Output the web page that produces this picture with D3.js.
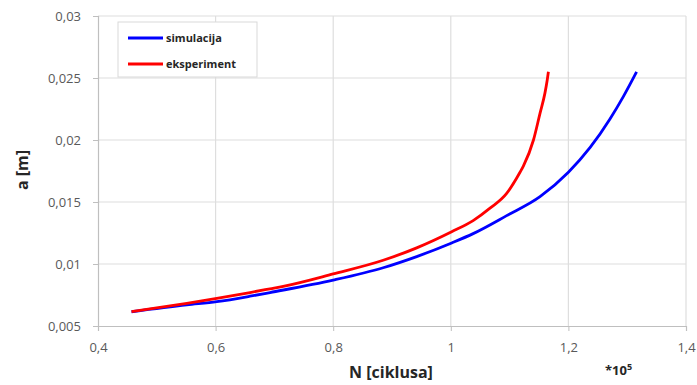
<!DOCTYPE html>
<html>
<head>
<meta charset="utf-8">
<script src="https://cdn.jsdelivr.net/npm/d3@7"></script>
<style>
	body { margin: 0; background: #fff; }
	text { font-family: 'Open Sans', 'Liberation Sans', sans-serif; }
</style>
</head>
<body>
<div id="chart"></div>
<script>
// Data (N in 10^5 cycles, a in m)
const simN = [ 0.457, 0.551, 0.602, 0.6585, 0.6925, 0.8, 0.885, 0.942, 1.0015, 1.038, 1.095, 1.1517, 1.2, 1.237, 1.2707, 1.2934, 1.316 ];
const simA = [ 0.00615, 0.0067, 0.00696, 0.0074, 0.0077, 0.0087, 0.0097, 0.0106, 0.0117, 0.01245, 0.0139, 0.01543, 0.0174, 0.0194, 0.0217, 0.0235, 0.0255 ];
const expN = [ 0.457, 0.551, 0.602, 0.6585, 0.6925, 0.715, 0.8, 0.885, 0.942, 1.0015, 1.038, 1.0667, 1.095, 1.1177, 1.1234, 1.1406, 1.1517, 1.16, 1.164, 1.166 ];
const expA = [ 0.00615, 0.00683, 0.00723, 0.0077, 0.008, 0.0082, 0.0092, 0.0103, 0.0113, 0.0126, 0.0135, 0.0145, 0.0157, 0.0174, 0.0179, 0.02, 0.02215, 0.02376, 0.02484, 0.0255 ];
const xTicks = [ 0.4, 0.6, 0.8, 1, 1.2, 1.4 ];
const yTicks = [ 0.005, 0.01, 0.015, 0.02, 0.025, 0.03 ];
const seriesNames = [ 'simulacija', 'eksperiment' ];
const seriesColors = [ '#0000ff', '#ff0000' ];

const dimensions = {
	width  : 697,
	height : 385,
	margin : { top: 16, right: 11, bottom: 59, left: 98 }
};
dimensions.boundedWidth = dimensions.width - dimensions.margin.left - dimensions.margin.right;
dimensions.boundedHeight = dimensions.height - dimensions.margin.top - dimensions.margin.bottom;

const svg = d3.select('#chart').append('svg')
	.attr('width', dimensions.width)
	.attr('height', dimensions.height);

const g = svg.append('g')
	.attr('transform', `translate(${dimensions.margin.left}, ${dimensions.margin.top})`);

const x = d3.scaleLinear().domain([ 0.4, 1.4 ]).range([ 0, dimensions.boundedWidth ]);
const y = d3.scaleLinear().domain([ 0.005, 0.03 ]).range([ dimensions.boundedHeight, 0 ]);
const fmt = (d) => String(+d.toFixed(3)).replace('.', ',');

// grid
g.append('g').selectAll('line').data(yTicks.slice(1)).join('line')
	.attr('x1', 0).attr('x2', dimensions.boundedWidth)
	.attr('y1', (d) => y(d)).attr('y2', (d) => y(d))
	.attr('stroke', '#dedede').attr('stroke-width', 1.2);
g.append('g').selectAll('line').data(xTicks.slice(1)).join('line')
	.attr('x1', (d) => x(d)).attr('x2', (d) => x(d))
	.attr('y1', 0).attr('y2', dimensions.boundedHeight)
	.attr('stroke', '#dedede').attr('stroke-width', 1.2);

// axes
const xAxis = g.append('g')
	.attr('transform', `translate(0, ${dimensions.boundedHeight})`)
	.call(d3.axisBottom(x).tickValues(xTicks).tickFormat(fmt).tickSize(5).tickPadding(12));
const yAxis = g.append('g')
	.call(d3.axisLeft(y).tickValues(yTicks).tickFormat(fmt).tickSize(5).tickPadding(12));
[ xAxis, yAxis ].forEach((a) => {
	a.select('.domain').attr('stroke', '#bfbfbf').attr('stroke-width', 1.2);
	a.selectAll('.tick line').attr('stroke', '#bfbfbf');
	a.selectAll('text').attr('fill', '#595959').attr('font-size', '13px')
		.attr('font-family', "'Open Sans', sans-serif");
});

// series
const line = d3.line().x((d) => x(d[0])).y((d) => y(d[1])).curve(d3.curveMonotoneX);
const series = [ d3.zip(simN, simA), d3.zip(expN, expA) ];
g.selectAll('path.series').data(series).join('path')
	.attr('class', 'series')
	.attr('fill', 'none')
	.attr('stroke', (d, i) => seriesColors[i])
	.attr('stroke-width', 2.8)
	.attr('d', line);

// axis titles
svg.append('text')
	.attr('transform', 'translate(28, 170) rotate(-90)')
	.attr('text-anchor', 'middle')
	.attr('font-size', '16px').attr('font-weight', 'bold').attr('fill', '#262626')
	.text('a [m]');
svg.append('text')
	.attr('x', 391).attr('y', 378)
	.attr('text-anchor', 'middle')
	.attr('font-size', '16px').attr('font-weight', 'bold').attr('fill', '#262626')
	.text('N [ciklusa]');
const exp = svg.append('text')
	.attr('x', 605).attr('y', 375)
	.attr('font-size', '13px').attr('font-weight', 'bold').attr('fill', '#262626');
exp.append('tspan').text('*10');
exp.append('tspan').attr('dy', -5).attr('font-size', '9px').text('5');

// legend
const legend = svg.append('g').attr('transform', 'translate(118, 22)');
legend.append('rect')
	.attr('width', 139).attr('height', 55)
	.attr('fill', '#fff').attr('stroke', '#d9d9d9');
seriesNames.forEach((name, i) => {
	const row = legend.append('g').attr('transform', `translate(10, ${16 + i * 26})`);
	row.append('line').attr('x1', 0).attr('x2', 35)
		.attr('stroke', seriesColors[i]).attr('stroke-width', 2.8);
	row.append('text').attr('x', 38).attr('y', 4)
		.attr('font-size', '11px').attr('font-weight', 'bold').attr('fill', '#262626')
		.text(name);
});
</script>
</body>
</html>
